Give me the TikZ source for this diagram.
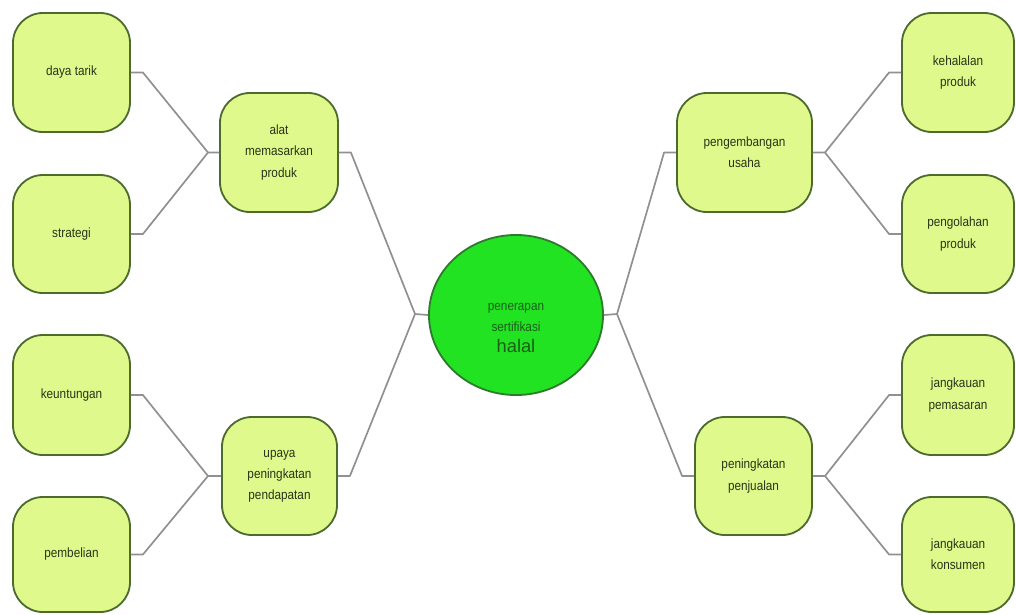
\documentclass[tikz,border=0pt]{standalone}
\usepackage{fontspec}
\setmainfont{Liberation Sans}
\newfontfamily\boxfont[FakeStretch=0.88]{Liberation Sans}
\usetikzlibrary{shapes.geometric,calc}
\definecolor{boxfill}{HTML}{E0F98C}
\definecolor{boxdraw}{HTML}{4E6B2E}
\definecolor{hubfill}{HTML}{22E322}
\definecolor{hubdraw}{HTML}{2F7A2F}
\definecolor{conncol}{HTML}{8E918E}
\definecolor{txt}{HTML}{2A3318}
\definecolor{hubtxt}{HTML}{1A5E1A}
\begin{document}
\begin{tikzpicture}[x=0.025cm,y=-0.025cm,
 box/.style={draw=boxdraw, fill=boxfill, line width=1.3pt, rounded corners=0.75cm, align=center, inner sep=0pt, text=txt, font=\boxfont\fontsize{9.5}{15}\selectfont},
 hub/.style={ellipse, draw=hubdraw, fill=hubfill, line width=1.3pt, inner sep=0pt, minimum width=4.35cm, minimum height=4cm, text=hubtxt, font=\boxfont\fontsize{9.5}{15}\selectfont},
 conn/.style={draw=conncol, line width=1.2pt, line join=round}]
\useasboundingbox (0,0) rectangle (1016,614);
% left leaves
\node[box, minimum width=2.925cm, minimum height=2.975cm] (daya) at (71.5,72.5) {daya tarik};
\node[box, minimum width=2.925cm, minimum height=2.95cm] (strat) at (71.5,234) {strategi};
\node[box, minimum width=2.925cm, minimum height=3cm] (untung) at (71.5,395) {keuntungan};
\node[box, minimum width=2.925cm, minimum height=2.875cm] (beli) at (71.5,554.5) {pembelian};
% left middle
\node[box, minimum width=2.95cm, minimum height=2.975cm] (alat) at (279,152.5) {alat\\memasarkan\\produk};
\node[box, minimum width=2.875cm, minimum height=2.95cm] (upaya) at (279.5,476) {upaya\\peningkatan\\pendapatan};
% hub
\node[hub] (hub) at (516,315) {\raisebox{-11pt}[0pt][0pt]{\begin{tabular}{@{}c@{}}penerapan\\sertifikasi\\{\normalfont\fontsize{13}{15}\selectfont halal}\end{tabular}}};
% right middle
\node[box, minimum width=3.375cm, minimum height=2.975cm] (kembang) at (744.5,152.5) {pengembangan\\usaha};
\node[box, minimum width=2.925cm, minimum height=2.95cm] (jual) at (753.5,476) {peningkatan\\penjualan};
% right leaves
\node[box, minimum width=2.8cm, minimum height=2.975cm] (halalp) at (958,72.5) {kehalalan\\produk};
\node[box, minimum width=2.8cm, minimum height=2.95cm] (olah) at (958,234) {pengolahan\\produk};
\node[box, minimum width=2.8cm, minimum height=3cm] (pasar) at (958,395) {jangkauan\\pemasaran};
\node[box, minimum width=2.8cm, minimum height=2.875cm] (konsumen) at (958,554.5) {jangkauan\\konsumen};
% junctions
\coordinate (jA) at (208,152.5);
\coordinate (jU) at (208,476);
\coordinate (jL) at (415,314);
\coordinate (jR) at (617,314);
\coordinate (jK) at (825,152.5);
\coordinate (jJ) at (825,476);
% connectors
\draw[conn] (daya.east) -- ++(12,0) -- (jA) -- (alat.west);
\draw[conn] (strat.east) -- ++(12,0) -- (jA);
\draw[conn] (untung.east) -- ++(12,0) -- (jU) -- (upaya.west);
\draw[conn] (beli.east) -- ++(12,0) -- (jU);
\draw[conn] (alat.east) -- ++(12,0) -- (jL) -- (hub.west);
\draw[conn] (upaya.east) -- ++(12,0) -- (jL);
\draw[conn] (hub.east) -- (jR) -- ($(kembang.west)+(-12,0)$) -- (kembang.west);
\draw[conn] (jR) -- ($(jual.west)+(-12,0)$) -- (jual.west);
\draw[conn] (kembang.east) -- (jK) -- ($(halalp.west)+(-12,0)$) -- (halalp.west);
\draw[conn] (jK) -- ($(olah.west)+(-12,0)$) -- (olah.west);
\draw[conn] (jual.east) -- (jJ) -- ($(pasar.west)+(-12,0)$) -- (pasar.west);
\draw[conn] (jJ) -- ($(konsumen.west)+(-12,0)$) -- (konsumen.west);
\end{tikzpicture}
\end{document}
